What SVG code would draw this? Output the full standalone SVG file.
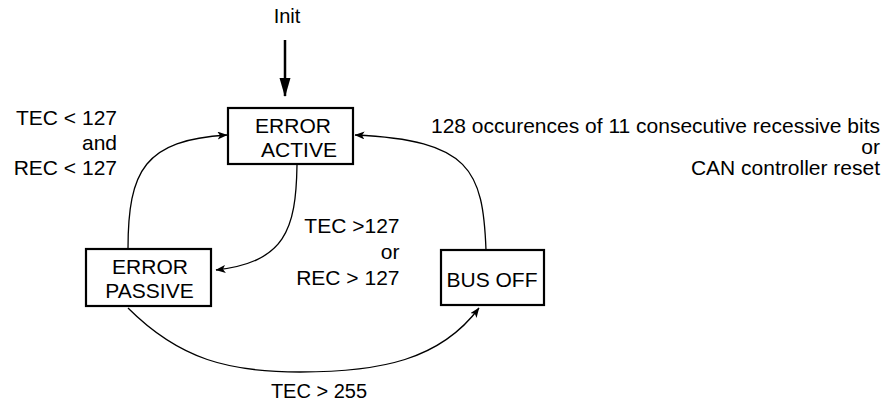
<svg xmlns="http://www.w3.org/2000/svg" width="888" height="402" viewBox="0 0 888 402">
<style>
text{font-family:"Liberation Sans",Arial,sans-serif;font-size:21px;fill:#000}
.box{fill:#fff;stroke:#000;stroke-width:2.2}
.c{text-anchor:middle}
.e{text-anchor:end}
.conn{fill:none;stroke:#000;stroke-width:1.3}
</style>
<defs>
<marker id="ah" viewBox="0 0 10 8" refX="9.5" refY="4" markerWidth="10" markerHeight="8" markerUnits="userSpaceOnUse" orient="auto">
<path d="M0,0 L10,4 L0,8 L2.5,4 z" fill="#000"/>
</marker>
<marker id="ahInit" viewBox="0 0 10 20" refX="20" refY="5" markerWidth="20" markerHeight="10" markerUnits="userSpaceOnUse" orient="auto">
<path d="M0,0 L20,5 L0,10 z" fill="#000"/>
</marker>
</defs>
<g id="connectors">
<path d="M285,40 L285,96" stroke="#000" stroke-width="2.5" fill="none"/>
<path d="M279.5,78 L290.5,78 L285,97 z" fill="#000"/>
<path class="conn" d="M297,165 C296,230 285,262 216,270" marker-end="url(#ah)"/>
<path class="conn" d="M128,249 C128,170 145,140 227,135" marker-end="url(#ah)"/>
<path class="conn" d="M486,250 C483,170 470,140 355,135" marker-end="url(#ah)"/>
<path class="conn" d="M128,308 C180,360 230,372 300,372 C380,372 440,360 479,308" marker-end="url(#ah)"/>
</g>
<g id="init-label"><text class="c" x="287" y="23" style="font-size:20px">Init</text></g>
<g id="error-active">
<rect class="box" x="228" y="108" width="125" height="56"/>
<text class="c" x="293" y="133">ERROR</text>
<text class="c" x="299" y="157">ACTIVE</text>
</g>
<g id="error-passive">
<rect class="box" x="86" y="249" width="125" height="57"/>
<text class="c" x="150" y="274">ERROR</text>
<text class="c" x="149.5" y="298">PASSIVE</text>
</g>
<g id="bus-off">
<rect class="box" x="441" y="250" width="103" height="55"/>
<text class="c" x="492" y="287">BUS OFF</text>
</g>
<g id="labels">
<text class="e" x="117" y="125">TEC &lt; 127</text>
<text class="e" x="117" y="150">and</text>
<text class="e" x="117" y="175">REC &lt; 127</text>
<text class="e" x="399.5" y="233">TEC &gt;127</text>
<text class="e" x="399.5" y="259">or</text>
<text class="e" x="399.5" y="285">REC &gt; 127</text>
<text class="e" x="880" y="133">128 occurences of 11 consecutive recessive bits</text>
<text class="e" x="880" y="154">or</text>
<text class="e" x="880" y="175">CAN controller reset</text>
<text class="c" x="319" y="398" style="font-size:20px">TEC &gt; 255</text>
</g>
</svg>
